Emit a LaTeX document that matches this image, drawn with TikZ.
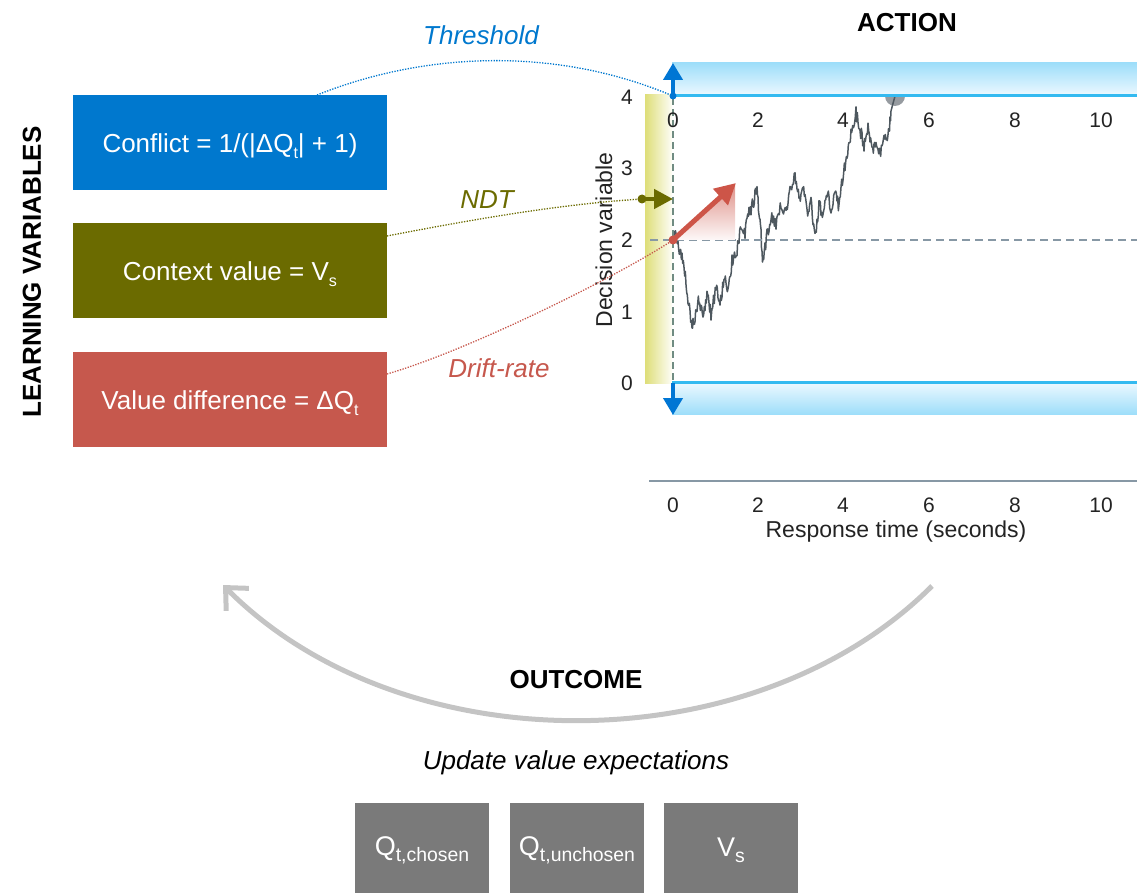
\documentclass[tikz,border=0pt]{standalone}
\usepackage{fontspec}
\setmainfont{Liberation Sans}
\usetikzlibrary{arrows.meta,calc}

\definecolor{cblue}{RGB}{0,120,206}
\definecolor{colive}{RGB}{107,107,0}
\definecolor{cred}{RGB}{198,88,77}
\definecolor{cgraybox}{RGB}{122,122,122}
\definecolor{carc}{RGB}{196,196,196}
\definecolor{bandline}{RGB}{52,186,240}
\definecolor{bandtop}{RGB}{158,222,250}
\definecolor{bandlow}{RGB}{238,249,255}
\definecolor{ndtyellow}{RGB}{222,222,120}
\definecolor{walkgray}{RGB}{78,88,95}
\definecolor{gridgray}{RGB}{135,152,165}
\definecolor{zerodash}{RGB}{112,140,130}
\definecolor{arrowblue}{RGB}{0,118,212}
\definecolor{driftred}{RGB}{205,85,72}
\definecolor{ticktext}{RGB}{35,35,35}
\definecolor{hitgray}{RGB}{150,155,160}

\newcommand{\fsz}[1]{\fontsize{#1}{#1}\selectfont}
\newcommand{\lowtext}[2][0.62]{\raisebox{-0.22em}{\scalebox{#1}{#2}}}
% shift the ink of a label down without changing its reported size
\newcommand{\sinkby}[2]{\raisebox{-#1}[\height][\depth]{#2}}

\begin{document}
\begin{tikzpicture}[x=1pt,y=-1pt,
  varbox/.style={fill=#1,text=white,minimum width=314,minimum height=95,inner sep=0,font=\fsz{26}},
  outbox/.style={fill=cgraybox,text=white,minimum width=134,minimum height=90,inner sep=0,font=\fsz{27}},
  title/.style={font=\fsz{26}\bfseries,inner sep=0},
  lbl/.style={font=\fsz{26}\itshape,inner sep=0},
  tick/.style={font=\fsz{21},text=ticktext,inner sep=0},
  axlbl/.style={font=\fsz{23},text=ticktext,inner sep=0},
  dotline/.style={line width=1.3,dash pattern=on 1.3 off 1.4},
  walk/.style={walkgray,line width=1.5,line join=round},
  blueptr/.style={arrowblue,line width=4,-{Triangle[length=17pt,width=19pt]}},
]
\useasboundingbox (0,0) rectangle (1137,893);

% ---------- left: learning variables ----------
\node[title,rotate=90] (lv) at (32,272) {LEARNING VARIABLES};
\node[varbox=cblue] (conflict) at (230,142.5) {\sinkby{4pt}{Conflict = 1/(|ΔQ\lowtext{t}| + 1)}};
\node[varbox=colive] (context) at (230,270.5) {\sinkby{4pt}{Context value = V\lowtext{s}}};
\node[varbox=cred] (valdiff) at (230,399.5) {\sinkby{4pt}{Value difference = ΔQ\lowtext{t}}};

% ---------- right: decision process ----------
\node[title] (action) at (907,23) {ACTION};

% non-decision time strip
\shade[left color=ndtyellow,right color=ndtyellow!6] (645,95) rectangle (672,383);

% boundary hit marker (drawn first, the band hides its upper half)
\fill[hitgray] (895,96) circle (10);

% evidence accumulation trace
\pgfmathsetseed{11}
\draw[walk] (673,240)
  \foreach \x/\y [remember=\x as \px (initially 673), remember=\y as \py (initially 240)] in {
    676/232, 680/252, 684/266, 688/300, 692/326, 695/318, 699/298, 703/320,
    707/296, 711/314, 716/290, 720/302, 724/280, 728/288, 732/262, 737/252,
    741/222, 745/234, 749/212, 753/204, 757/188, 760/222, 763/262, 767/236,
    771/216, 776/226, 781/204, 786/212, 790/190, 795/178, 799/198, 803/188,
    807/212, 811/204, 815/238, 819/206, 823/214, 827/190, 831/212, 835/196,
    839/206, 843/176, 847/156, 851/132, 856/112, 860/130, 864/146, 868/128,
    872/152, 876/138, 880/156, 884/132, 888/140, 891/114}
  { \foreach \k in {1,...,6} { -- ({\px+(\x-\px)*\k/6},{\py+(\y-\py)*\k/6+7*rand}) } }
  -- (895,96);

% decision bounds
\shade[top color=bandtop,bottom color=bandlow] (672,63) rectangle (1137,96);
\shade[top color=bandlow,bottom color=bandtop] (672,382) rectangle (1137,414);
\draw[bandline,line width=3] (672,96) -- (1137,96);
\draw[bandline,line width=3] (672,382) -- (1137,382);

% reference lines
\draw[zerodash,line width=2,dash pattern=on 7 off 4] (673,98) -- (673,381);
\draw[gridgray,line width=2,dash pattern=on 8 off 5] (650,240) -- (1137,240);

% drift
\shade[top color=driftred!65,bottom color=driftred!4] (673,240) -- (735,184) -- (735,240) -- cycle;
\coordinate (driftorigin) at (673,240);
\coordinate (drifttip) at (736,183);
\draw[driftred,line width=5,-{Triangle[length=21pt,width=21pt]}] (driftorigin) -- (drifttip);
\fill[driftred] (driftorigin) circle (4.5);

% threshold arrows
\coordinate (thrdot) at (673,96);
\coordinate (thrup) at (673,63);
\coordinate (lowdot) at (673,383);
\coordinate (lowdown) at (673,415);
\draw[blueptr] (thrdot) -- (thrup);
\draw[blueptr] (lowdot) -- (lowdown);
\fill[arrowblue] (thrdot) circle (3.5);

% non-decision time arrow
\coordinate (ndtdot) at (642,199);
\coordinate (ndttip) at (673,199);
\draw[colive,line width=4.5,-{Triangle[length=19pt,width=19pt]}] (ndtdot) -- (ndttip);
\fill[colive] (ndtdot) circle (4.5);

% axes text
\node[tick] (y4) at (627,97) {4};
\node[tick] (y3) at (627,168) {3};
\node[tick] (y2) at (627,240) {2};
\node[tick] (y1) at (627,312) {1};
\node[tick] (y0) at (627,383) {0};
\foreach \v/\px in {0/673,2/758,4/843,6/929,8/1015,10/1101}{
  \node[tick] (xt\v) at (\px,120) {\v};
  \node[tick] (xb\v) at (\px,505) {\v};
}
\node[axlbl,rotate=90] (ylab) at (604,240) {Decision variable};
\draw[gridgray,line width=1.5] (649,481) -- (1137,481);
\node[axlbl] (xlab) at (896,532) {Response time (seconds)};

% ---------- mappings ----------
\coordinate (thrsrc) at (317,95);
\coordinate (ndtsrc) at (387,236);
\coordinate (driftsrc) at (387,374);
\draw[dotline,cblue] (thrsrc) .. controls (430,50) and (560,48) .. (thrdot);
\draw[dotline,colive] (ndtsrc) .. controls (470,220) and (560,204) .. (ndtdot);
\draw[dotline,cred] (driftsrc) .. controls (470,350) and (620,275) .. (driftorigin);
\node[lbl,text=cblue] (thrlbl) at (481,35) {Threshold};
\node[lbl,text=colive] (ndtlbl) at (487,200) {NDT};
\node[lbl,text=cred] (driftlbl) at (499,368) {Drift-rate};

% ---------- outcome loop ----------
\coordinate (loopstart) at (932,586);
\coordinate (loopend) at (223,585);
\draw[carc,line width=5,-{Straight Barb[length=17pt,width=32pt]}]
  (loopstart) .. controls (753,765) and (402,765) .. (loopend);
\node[title] (outcome) at (576,680) {OUTCOME};
\node[lbl] (update) at (576,763) {Update value expectations};

\node[outbox] (qchosen) at (422,848) {\sinkby{2pt}{Q\lowtext[0.72]{t,chosen}}};
\node[outbox] (qunchosen) at (577,848) {\sinkby{2pt}{Q\lowtext[0.72]{t,unchosen}}};
\node[outbox] (vs) at (731,848) {\sinkby{2pt}{V\lowtext[0.72]{s}}};
\end{tikzpicture}
\end{document}
